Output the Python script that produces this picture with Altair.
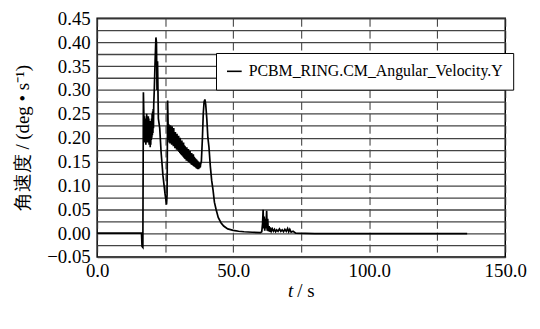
import altair as alt
import pandas as pd

# time (s) and angular velocity (deg/s)
t = [0.0, 16.3, 16.5, 16.8, 17.0,
     17.3, 17.4, 17.5, 17.6, 17.7, 17.8, 17.9, 18.0, 18.1, 18.2, 18.3, 18.4, 18.5, 18.6,
     18.7, 18.8, 18.9, 19.0, 19.1, 19.2, 19.3, 19.4, 19.5, 19.6, 19.7, 19.8, 19.9, 20.0,
     20.1, 20.2, 20.3, 20.4, 20.5, 20.6, 20.7, 20.8,
     21.0, 21.3, 21.6, 21.8, 22.0, 22.2, 22.5, 23.0, 23.5, 24.2, 25.0, 25.5, 25.7, 25.9,
     26.20, 26.35, 26.50, 26.65, 26.80, 26.95, 27.10, 27.25, 27.40, 27.55, 27.70, 27.85,
     28.00, 28.15, 28.30, 28.45, 28.60, 28.75, 28.90, 29.05, 29.20, 29.35, 29.50, 29.65,
     29.80, 29.95, 30.10, 30.25, 30.40, 30.55, 30.70, 30.85, 31.00, 31.15, 31.30, 31.45,
     31.60, 31.75, 31.90, 32.05, 32.20, 32.35, 32.50, 32.65, 32.80, 32.95, 33.10, 33.25,
     33.40, 33.55, 33.70, 33.85, 34.00, 34.15, 34.30, 34.45, 34.60, 34.75, 34.90, 35.05,
     35.20, 35.35, 35.50, 35.65, 35.80, 35.95, 36.10, 36.25, 36.40, 36.55, 36.70, 36.85,
     37.00, 37.15, 37.30, 37.45, 37.60, 37.75, 37.90, 38.05,
     38.3, 38.7, 39.0, 39.3, 39.6, 39.9, 40.3, 40.7, 41.1, 41.6,
     42.1, 42.6, 43.1, 43.7, 44.5, 45.5, 46.5, 48.0, 50.0, 52.0, 54.0, 57.0, 60.0, 60.5,
     60.8, 61.0, 61.2, 61.4, 61.6, 61.8, 62.0, 62.3, 62.5, 62.7, 62.9, 63.2, 63.4, 63.7,
     64.0, 64.4, 64.8, 65.2, 65.6, 66.0, 66.5, 67.0, 67.5, 68.0, 68.5, 69.0, 69.5, 70.0,
     70.4, 70.8, 71.3, 72.0, 73.0, 80.0, 100.0, 136.0]
v = [0.0, 0.0, -0.028, -0.03, 0.295,
     0.21, 0.245, 0.19, 0.235, 0.20, 0.24, 0.185, 0.23, 0.205, 0.25, 0.195, 0.235, 0.19, 0.225,
     0.20, 0.245, 0.195, 0.24, 0.185, 0.23, 0.19, 0.235, 0.18, 0.225, 0.185, 0.23, 0.195, 0.24,
     0.20, 0.25, 0.205, 0.255, 0.21, 0.26, 0.22, 0.27,
     0.30, 0.36, 0.41, 0.40, 0.30, 0.36, 0.24, 0.22, 0.17, 0.12, 0.08, 0.06, 0.08, 0.278,
     0.195, 0.228, 0.190, 0.222, 0.188, 0.226, 0.192, 0.218, 0.185, 0.224, 0.190, 0.214,
     0.182, 0.220, 0.186, 0.210, 0.178, 0.212, 0.180, 0.206, 0.175, 0.208, 0.176, 0.200,
     0.172, 0.204, 0.170, 0.198, 0.168, 0.200, 0.166, 0.192, 0.164, 0.194, 0.162, 0.188,
     0.160, 0.190, 0.158, 0.184, 0.156, 0.182, 0.155, 0.178, 0.152, 0.180, 0.153, 0.174,
     0.150, 0.176, 0.149, 0.170, 0.147, 0.172, 0.146, 0.166, 0.144, 0.168, 0.143, 0.163,
     0.142, 0.165, 0.140, 0.160, 0.139, 0.158, 0.138, 0.156, 0.136, 0.154, 0.135, 0.152,
     0.134, 0.150, 0.134, 0.148, 0.136, 0.146, 0.138, 0.145,
     0.15, 0.20, 0.25, 0.275, 0.28, 0.27, 0.24, 0.20, 0.18, 0.14,
     0.11, 0.09, 0.065, 0.05, 0.033, 0.022, 0.015, 0.009, 0.006, 0.004, 0.003, 0.002, 0.001, 0.003,
     0.02, 0.049, 0.01, 0.035, 0.005, 0.03, 0.01, 0.047, 0.005, 0.03, 0.004, 0.015, 0.003, 0.012,
     0.004, 0.009, 0.004, 0.008, 0.003, 0.007, 0.004, 0.009, 0.004, 0.007, 0.003, 0.008, 0.004, 0.01,
     0.003, 0.008, 0.002, 0.004, 0.0, -0.001, -0.001, -0.001]

series_name = "PCBM_RING.CM_Angular_Velocity.Y"
x_grid_values = [0, 25, 50, 75, 100, 125, 150]
y_grid_values = [-0.05, -0.025, 0.0, 0.025, 0.05, 0.075, 0.1, 0.125, 0.15, 0.175, 0.2,
                 0.225, 0.25, 0.275, 0.3, 0.325, 0.35, 0.375, 0.4, 0.425, 0.45]
y_title = "角速度 / (deg • s⁻¹)"

df = pd.DataFrame({"t": t, "v": v, "series": [series_name] * len(t)})
serif = "Liberation Serif"

line = alt.Chart(df).mark_line(strokeWidth=1.7, color="black").encode(
    x=alt.X("t:Q", scale=alt.Scale(domain=[0, 150], nice=False),
            axis=alt.Axis(values=x_grid_values, title=None, domain=False, ticks=False,
                          labelOverlap=False, labelFlush=False,
                          labelFont=serif, labelFontSize=19, labelColor="black",
                          labelExpr="datum.value % 50 == 0 ? format(datum.value, '.1f') : ''",
                          grid=True, gridColor="#333", gridDash=[8, 4], gridWidth=1,
                          labelPadding=5)),
    y=alt.Y("v:Q", scale=alt.Scale(domain=[-0.05, 0.45], nice=False, zero=False),
            axis=alt.Axis(values=y_grid_values, title=y_title, domain=False, ticks=False,
                          labelOverlap=False, labelFlush=False,
                          labelFont=serif, labelFontSize=19, labelColor="black",
                          titleFont=serif, titleFontSize=19, titleFontWeight="normal",
                          titleColor="black",
                          labelExpr="abs(round(datum.value*1000)) % 50 == 0 ? format(datum.value, '.2f') : ''",
                          grid=True, gridColor="#444", gridWidth=1.3,
                          labelPadding=7, titlePadding=14)),
    color=alt.Color("series:N", scale=alt.Scale(range=["black"]),
                    legend=alt.Legend(title=None, orient="none", legendX=120, legendY=35,
                                      strokeColor="black", fillColor="white", padding=10,
                                      labelFont=serif, labelFontSize=16, labelLimit=400,
                                      labelColor="black", labelOffset=6,
                                      symbolType="stroke", symbolStrokeWidth=1.6,
                                      symbolSize=220, symbolStrokeColor="black")),
)

tdf = pd.DataFrame({"a": [0]})
t_italic = alt.Chart(tdf).mark_text(text="t", font=serif, fontSize=19, fontStyle="italic",
                                    align="right", baseline="middle", color="black").encode(
    x=alt.value(198), y=alt.value(275))
t_rest = alt.Chart(tdf).mark_text(text="/ s", font=serif, fontSize=19,
                                  align="left", baseline="middle", color="black").encode(
    x=alt.value(202), y=alt.value(275))

chart = alt.layer(line, t_italic, t_rest).properties(
    width=412, height=241,
    padding={"left": 6, "top": 0, "right": 5, "bottom": 5},
    view=alt.ViewBackground(stroke="black", strokeWidth=1.5),
)

chart.save("out.html", embed_options={"renderer": "svg", "actions": False})
